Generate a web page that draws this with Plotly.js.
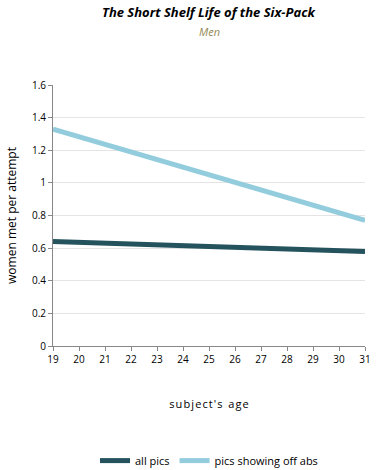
<!DOCTYPE html>
<html><head><meta charset="utf-8">
<script src="https://cdn.plot.ly/plotly-3.0.1.min.js"></script>
<style>body{margin:0;background:#fff}#c{width:381px;height:470px}</style>
</head><body><div id="c"></div>
<script>
var ages = [19, 31];
var allPics = [0.64, 0.58];
var absPics = [1.33, 0.77];
var seriesNames = ["all pics", "pics showing off abs"];
var xTicks = [19,20,21,22,23,24,25,26,27,28,29,30,31];
var yTicks = [0,0.2,0.4,0.6,0.8,1,1.2,1.4,1.6];
var yTickText = ["0","0.2","0.4","0.6","0.8","1","1.2","1.4","1.6"];

var F = "Open Sans, Noto Sans, sans-serif";
var traces = [
  {x: ages, y: allPics, name: seriesNames[0], mode: "lines", line: {color: "#24535e", width: 5}},
  {x: ages, y: absPics, name: seriesNames[1], mode: "lines", line: {color: "#93cddd", width: 5}}
];
var layout = {
  width: 381, height: 470,
  margin: {l: 53, r: 16, t: 85, b: 124, autoexpand: false},
  paper_bgcolor: "#fff", plot_bgcolor: "#fff",
  font: {family: F, size: 10, color: "#000"},
  showlegend: true,
  legend: {orientation: "h", x: 0.5, xanchor: "center", yref: "container", y: 0.02, yanchor: "middle", font: {size: 11}},
  xaxis: {range: [19, 31], tickvals: xTicks, ticktext: xTicks.map(String), ticks: "outside", ticklen: 4, tickcolor: "#888",
          showline: true, linecolor: "#888", showgrid: false, zeroline: false, fixedrange: true, automargin: false,
          title: {text: "s\u200au\u200ab\u200aj\u200ae\u200ac\u200at\u200a'\u200as  a\u200ag\u200ae", font: {size: 11}, standoff: 35}},
  yaxis: {range: [0, 1.6], tickvals: yTicks, ticktext: yTickText, ticks: "outside", ticklen: 4, tickcolor: "#888",
          showline: true, linecolor: "#888", gridcolor: "#e4e4e4", zeroline: false, fixedrange: true, automargin: false,
          title: {text: "women met per attempt", font: {size: 12}, standoff: 12}},
  annotations: [
    {text: "<b><i>The Short Shelf Life of the Six-Pack</i></b>", xref: "paper", yref: "paper", x: 0.5, y: 1, yshift: 73, xanchor: "center", yanchor: "middle", showarrow: false, font: {size: 13, color: "#000"}},
    {text: "<i>Men</i>", xref: "paper", yref: "paper", x: 0.5, y: 1, yshift: 54, xanchor: "center", yanchor: "middle", showarrow: false, font: {size: 11, color: "#948a54"}}
  ]
};
Plotly.newPlot("c", traces, layout, {displayModeBar: false, staticPlot: true});
</script></body></html>
